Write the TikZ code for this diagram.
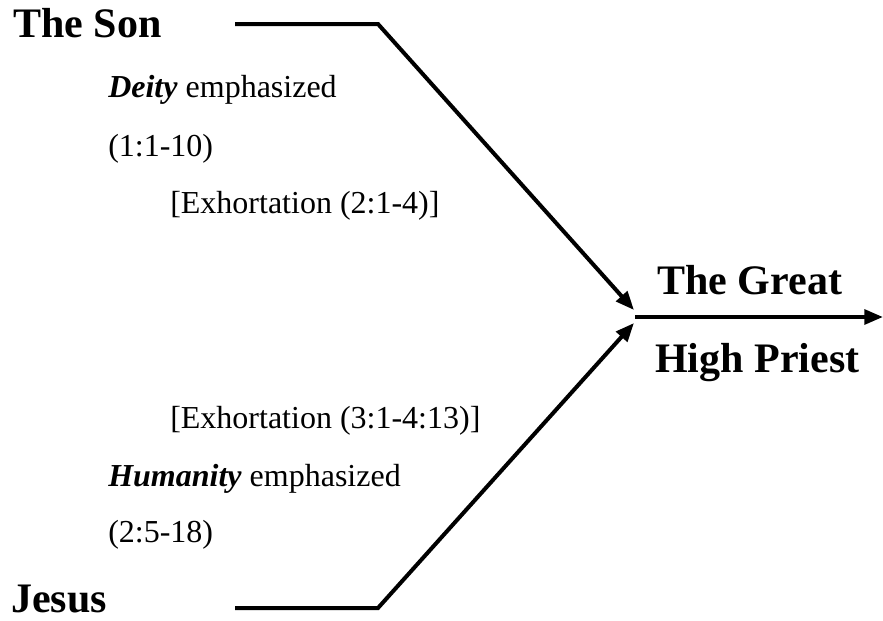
\documentclass[tikz,border=0pt]{standalone}
\usepackage{fontspec}
\setmainfont{Liberation Serif}
\usetikzlibrary{positioning}
\usetikzlibrary{calc}
\usetikzlibrary{arrows.meta}

\tikzset{
  title/.style={anchor=base west,inner sep=0pt,font=\fontsize{31.5}{36}\selectfont\bfseries},
  note/.style={anchor=base west,inner sep=0pt,font=\fontsize{24}{28}\selectfont},
  thick line/.style={line width=3pt},
  tip/.style={-{Triangle[length=14pt,width=11pt]}}
}

\begin{document}
\begin{tikzpicture}[x=0.75pt,y=-0.75pt]
\useasboundingbox (0,0) rectangle (883,621);

\node[title](son) at (13,37){The Son};
\node[title](jesus) at (11,612){Jesus};
\node[title](great) at (657,294){The Great};
\node[title](priest) at (655,372){High Priest};

\node[note](deity) at (108,97){\textbf{\textit{Deity}} emphasized};
\node[note](refA) at (108,156){(1:1-10)};
\node[note](exhA) at (170,213){[Exhortation (2:1-4)]};
\node[note](exhB) at (170,428){[Exhortation (3:1-4:13)]};
\node[note](human) at (108,486){\textbf{\textit{Humanity}} emphasized};
\node[note](refB) at (108,542){(2:5-18)};

\coordinate (sonL) at (235,24);
\coordinate (sonK) at (378,24);
\coordinate (jesusL) at (235,608);
\coordinate (jesusK) at (378,608);
\coordinate (hubT) at (634,310);
\coordinate (hubB) at (634,323);
\coordinate (hub) at (635,317);
\coordinate (out) at (883,317);

\draw[thick line,tip](sonL)--(sonK)--(hubT);
\draw[thick line,tip](jesusL)--(jesusK)--(hubB);
\path
(hub) edge[thick line,tip]node{} (out);
\end{tikzpicture}
\end{document}
